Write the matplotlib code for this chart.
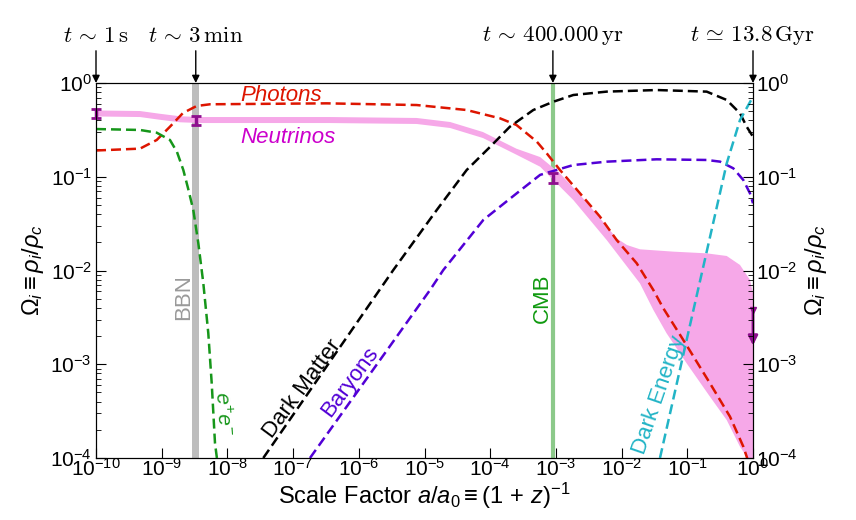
import numpy as np
import matplotlib
matplotlib.use("Agg")
import matplotlib.pyplot as plt

plt.rcParams["font.family"] = ["Liberation Sans", "DejaVu Sans"]
plt.rcParams["mathtext.fontset"] = "custom"
plt.rcParams["mathtext.rm"] = "Liberation Sans"
plt.rcParams["mathtext.it"] = "Liberation Sans:italic"
plt.rcParams["mathtext.bf"] = "Liberation Sans:bold"

# values, as log10(a) and log10(Omega)
photon_loga = [-10, -9.33, -9.076, -8.874, -8.676, -8.467, -8.265, -6.49, -5.12, -4.36,
               -3.85, -3.6, -3.29, -3.14, -2.938, -2.633, -2.329, -2.075, -1.77, -1.517,
               -1.365, -1.061, -0.655, -0.35, -0.147, -0.096, 0.0]
photon_logo = [-0.72, -0.70, -0.608, -0.466, -0.32, -0.245, -0.227, -0.217, -0.235, -0.288,
               -0.377, -0.448, -0.626, -0.75, -0.928, -1.177, -1.426, -1.675, -1.923, -2.208,
               -2.403, -2.741, -3.203, -3.559, -3.879, -3.986, -4.2]

ee_loga = [-10, -9.33, -9.076, -8.874, -8.767, -8.671, -8.6, -8.519, -8.443, -8.367,
           -8.291, -8.239, -8.189, -8.16]
ee_logo = [-0.491, -0.501, -0.53, -0.608, -0.736, -0.928, -1.12, -1.355, -1.707, -2.133,
           -2.667, -3.2, -3.84, -4.0]

dm_loga = [-7.454, -5.475, -4.814, -4.358, -4.0, -3.70, -3.344, -3.04, -2.735, -2.227,
           -1.466, -0.705, -0.40, -0.198, -0.096, 0.0]
dm_logo = [-4.0, -1.995, -1.355, -0.928, -0.68, -0.466, -0.288, -0.2, -0.128, -0.092,
           -0.075, -0.092, -0.181, -0.323, -0.466, -0.573]

bar_loga = [-6.743, -4.916, -4.714, -4.105, -3.597, -3.24, -2.735, -2.227, -1.466, -0.705,
            -0.5, -0.3, -0.147, -0.046, 0.0]
bar_logo = [-4.0, -2.208, -1.995, -1.461, -1.177, -0.98, -0.875, -0.839, -0.814, -0.821,
            -0.839, -0.91, -1.035, -1.177, -1.283]

de_loga = [-1.416, -1.01, -0.757, -0.40, -0.198, 0.0]
de_logo = [-4.0, -2.74, -1.96, -0.857, -0.395, -0.146]

nu_up_loga = [-10, -9.33, -9.03, -8.72, -8.42, -6.44, -5.12, -4.61, -4.11, -3.6, -3.24,
              -2.94, -2.63, -2.33, -2.075, -1.92, -1.72, -1.21, -0.705, -0.40, -0.198,
              -0.046, 0.0]
nu_up_logo = [-0.293, -0.299, -0.328, -0.355, -0.363, -0.363, -0.373, -0.416, -0.523, -0.701,
              -0.79, -0.963, -1.195, -1.44, -1.657, -1.728, -1.774, -1.799, -1.817, -1.845,
              -1.941, -2.10, -2.24]
nu_lo_loga = [-10, -9.33, -9.03, -8.72, -8.42, -6.44, -5.12, -4.61, -4.11, -3.6, -3.24,
              -2.735, -2.227, -1.721, -1.517, -1.315, -1.01, -0.655, -0.40, -0.198, -0.096,
              0.0]
nu_lo_logo = [-0.357, -0.363, -0.392, -0.419, -0.427, -0.427, -0.437, -0.48, -0.587, -0.765,
              -0.893, -1.248, -1.675, -2.137, -2.42, -2.67, -2.99, -3.346, -3.595, -3.879,
              -3.986, -4.2]

nu_pts_a = [1e-10, 3.3e-9, 9e-4]
nu_pts_o = [0.474, 0.40, 0.097]
nu_limit = (1.0, 10 ** -2.42, 10 ** -2.8)

bbn_range = (2.9e-9, 3.7e-9)
cmb_a = 9e-4

epochs = [1e-10, 3.3e-9, 9e-4, 1.0]
epoch_labels = [r"$t\,\sim\,1\,\mathrm{s}$", r"$t\,\sim\,3\,\mathrm{min}$",
                r"$t\,\sim\,400.000\,\mathrm{yr}$", r"$t\,\simeq\,13.8\,\mathrm{Gyr}$"]


def p(v):
    return 10 ** np.array(v)


fig = plt.figure(figsize=(8.56, 5.2), dpi=100)
ax = fig.add_axes([96 / 856, 62 / 520, 657 / 856, 375 / 520])

dash = (0, (4.0, 2.0))
lw = 1.8

ax.axvspan(*bbn_range, color="#bdbdbd", lw=0, zorder=1)
ax.axvline(cmb_a, color="#8cc98a", lw=3, zorder=1)

ax.fill(np.concatenate([p(nu_up_loga), p(nu_lo_loga)[::-1]]),
        np.concatenate([p(nu_up_logo), p(nu_lo_logo)[::-1]]),
        color="#f6a8e8", lw=0, zorder=2)

ax.plot(p(photon_loga), p(photon_logo), ls=dash, lw=lw, color="#dd1500", zorder=3)
ax.plot(p(ee_loga), p(ee_logo), ls=dash, lw=lw, color="#16961a", zorder=3)
ax.plot(p(dm_loga), p(dm_logo), ls=dash, lw=lw, color="black", zorder=3)
ax.plot(p(bar_loga), p(bar_logo), ls=dash, lw=lw, color="#5200d6", zorder=3)
ax.plot(p(de_loga), p(de_logo), ls=dash, lw=lw, color="#22b4c6", zorder=3)

ax.errorbar(nu_pts_a, nu_pts_o, yerr=[[o * 0.11 for o in nu_pts_o], [o * 0.12 for o in nu_pts_o]],
            fmt="none", ecolor="#8e0f8e", elinewidth=2.5, capsize=3.5, capthick=2,
            zorder=5, clip_on=False)
ax.plot([nu_limit[0]], [nu_limit[1]], marker="v", ms=5, color="#8e0f8e",
        clip_on=False, zorder=5)
ax.annotate("", xy=(nu_limit[0], nu_limit[2]), xytext=(nu_limit[0], nu_limit[1]),
            arrowprops=dict(arrowstyle="-|>", color="#8e0f8e", lw=2, mutation_scale=14,
                            shrinkA=0, shrinkB=0), zorder=5, annotation_clip=False)

ax.set_xscale("log")
ax.set_yscale("log")
ax.set_xlim(1e-10, 1)
ax.set_ylim(1e-4, 1)
ax.set_xticks([10.0 ** k for k in range(-10, 1)])

# labels on the curves
ax.text(10 ** -7.81, 10 ** -0.192, "Photons", color="#dd1500", fontsize=16,
        style="italic", ha="left", va="baseline")
ax.text(10 ** -7.81, 10 ** -0.637, "Neutrinos", color="#cc00cc", fontsize=16,
        style="italic", ha="left", va="baseline")
ax.text(10 ** -8.668, 10 ** -2.288, "BBN", color="#9a9a9a", fontsize=16, rotation=90,
        ha="center", va="center")
ax.text(10 ** -3.204, 10 ** -2.293, "CMB", color="#109a10", fontsize=16, rotation=90,
        ha="center", va="center")
ax.text(10 ** -8.067, 10 ** -3.52, r"$e^{+}e^{-}$", color="#16961a", fontsize=15,
        rotation=-86, ha="center", va="center")
ax.text(10 ** -6.865, 10 ** -3.264, "Dark Matter", color="black", fontsize=16,
        rotation=53.5, ha="center", va="center", rotation_mode="anchor")
ax.text(10 ** -6.134, 10 ** -3.19, "Baryons", color="#5200d6", fontsize=16,
        rotation=53.5, ha="center", va="center", rotation_mode="anchor")
ax.text(10 ** -1.43, 10 ** -3.33, "Dark Energy", color="#22b4c6", fontsize=16,
        rotation=71, ha="center", va="center", rotation_mode="anchor")

# epochs on top
for a, lab in zip(epochs, epoch_labels):
    ax.annotate(lab, xy=(a, 1.0), xycoords=("data", "axes fraction"),
                xytext=(a, 1.097), textcoords=("data", "axes fraction"),
                ha="center", va="bottom", fontsize=16.5, math_fontfamily="cm",
                arrowprops=dict(arrowstyle="-|>", color="black", lw=1,
                                mutation_scale=11, shrinkA=1, shrinkB=0),
                annotation_clip=False)

ax.set_xlabel(r"Scale Factor $a/a_0 \equiv (1\,+\,z)^{-1}$", fontsize=17, labelpad=1)
ax.set_ylabel(r"$\Omega_i \equiv \rho_i/\rho_c$", fontsize=17, labelpad=3)

ax.tick_params(which="both", direction="in", top=False, right=False, labelsize=15)
ax.tick_params(which="major", length=7)
ax.tick_params(which="minor", length=3.5)
ax.tick_params(axis="x", pad=0)
ax.tick_params(axis="y", pad=3)

ax2 = ax.twinx()
ax2.set_yscale("log")
ax2.set_ylim(1e-4, 1)
ax2.tick_params(which="both", direction="in", labelsize=15, pad=2)
ax2.tick_params(which="major", length=7)
ax2.tick_params(which="minor", length=3.5)
ax2.set_ylabel(r"$\Omega_i \equiv \rho_i/\rho_c$", fontsize=17, labelpad=4)

fig.savefig("out.png", dpi=100)
